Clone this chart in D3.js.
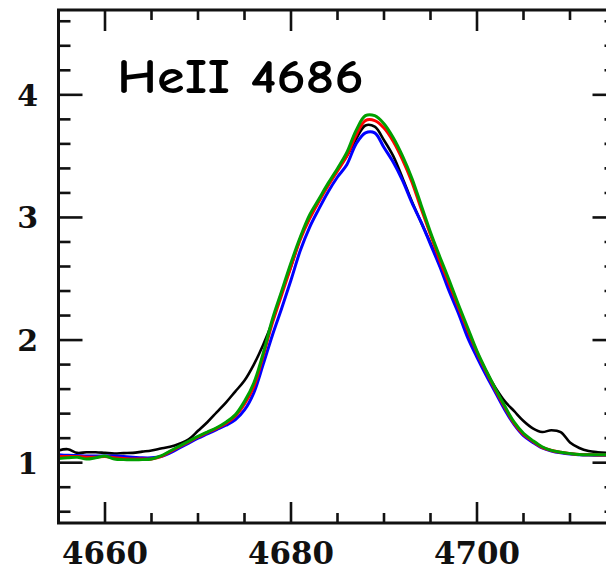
<!DOCTYPE html>
<html>
<head>
<meta charset="utf-8">
<script src="https://cdn.jsdelivr.net/npm/d3@7"></script>
<style>
body { margin: 0; background: #fff; }
svg { display: block; }
.tick-label { font-family: "DejaVu Serif", "Liberation Serif", serif; font-weight: bold; fill: #111; }
.title { font-family: "Comic Sans MS", "Comic Neue", "DejaVu Sans", sans-serif; font-weight: bold; font-size: 48px; fill: #000; }
</style>
</head>
<body>
<div id="chart"></div>
<script>
var width = 606,
    height = 572;

// wavelength grid (Angstrom)
var lambda = [4655, 4656, 4657, 4658, 4659, 4660, 4661, 4662, 4663, 4664,
              4665, 4666, 4667, 4668, 4669, 4670, 4671, 4672, 4673, 4674,
              4675, 4676, 4677, 4678, 4679, 4680, 4681, 4682, 4683, 4684,
              4685, 4686, 4687, 4688, 4689, 4690, 4691, 4692, 4693, 4694,
              4695, 4696, 4697, 4698, 4699, 4700, 4701, 4702, 4703, 4704,
              4705, 4706, 4707, 4708, 4709, 4710, 4711, 4712, 4713, 4714];

// normalised flux
var fluxBlack = [1.10, 1.11, 1.08, 1.085, 1.085, 1.08, 1.075, 1.078, 1.08, 1.09,
                 1.10, 1.115, 1.13, 1.155, 1.19, 1.26, 1.33, 1.41, 1.49, 1.58,
                 1.67, 1.80, 1.96, 2.15, 2.39, 2.60, 2.83, 3.00, 3.14, 3.27,
                 3.39, 3.50, 3.64, 3.75, 3.74, 3.63, 3.50, 3.32, 3.13, 2.96,
                 2.79, 2.61, 2.42, 2.24, 2.05, 1.89, 1.74, 1.61, 1.50, 1.42,
                 1.34, 1.28, 1.25, 1.265, 1.25, 1.165, 1.12, 1.095, 1.085, 1.08];

var fluxBlue = [1.065, 1.06, 1.058, 1.055, 1.055, 1.055, 1.055, 1.05, 1.045, 1.04,
                1.04, 1.05, 1.08, 1.12, 1.16, 1.20, 1.235, 1.27, 1.305, 1.35,
                1.43, 1.57, 1.80, 2.04, 2.26, 2.49, 2.73, 2.92, 3.07, 3.21,
                3.33, 3.43, 3.60, 3.69, 3.69, 3.57, 3.45, 3.30, 3.12, 2.96,
                2.78, 2.60, 2.40, 2.22, 2.02, 1.86, 1.71, 1.57, 1.43, 1.31,
                1.22, 1.165, 1.12, 1.095, 1.08, 1.07, 1.065, 1.062, 1.06, 1.06];

var fluxRed = [1.05, 1.05, 1.05, 1.045, 1.045, 1.05, 1.04, 1.035, 1.03, 1.03,
               1.03, 1.05, 1.09, 1.13, 1.17, 1.21, 1.245, 1.28, 1.32, 1.38,
               1.48, 1.62, 1.87, 2.14, 2.37, 2.60, 2.82, 2.99, 3.13, 3.26,
               3.38, 3.50, 3.67, 3.79, 3.79, 3.73, 3.62, 3.47, 3.29, 3.07,
               2.86, 2.65, 2.46, 2.27, 2.08, 1.90, 1.74, 1.59, 1.45, 1.32,
               1.23, 1.175, 1.125, 1.10, 1.085, 1.075, 1.067, 1.065, 1.063, 1.063];

var fluxGreen = [1.035, 1.04, 1.045, 1.03, 1.04, 1.055, 1.03, 1.025, 1.025, 1.025,
                 1.03, 1.055, 1.095, 1.135, 1.175, 1.215, 1.25, 1.285, 1.33, 1.39,
                 1.50, 1.65, 1.89, 2.17, 2.40, 2.63, 2.84, 3.02, 3.15, 3.28,
                 3.40, 3.53, 3.71, 3.83, 3.83, 3.765, 3.65, 3.50, 3.32, 3.10,
                 2.88, 2.68, 2.49, 2.29, 2.10, 1.91, 1.75, 1.60, 1.46, 1.33,
                 1.24, 1.18, 1.13, 1.10, 1.085, 1.075, 1.067, 1.065, 1.065, 1.065];

var xMajor = [4660, 4680, 4700];
var yMajor = [1, 2, 3, 4];
var title = "HeII 4686";

var series = [
    { color: "#000000", values: fluxBlack, w: 2.6 },
    { color: "#0000ff", values: fluxBlue, w: 3 },
    { color: "#ff0000", values: fluxRed, w: 3 },
    { color: "#00a000", values: fluxGreen, w: 3 }
];

// plot frame runs off the right edge of the picture
var x = d3.scaleLinear().domain([4655, 4715]).range([58.5, 616.5]);
var y = d3.scaleLinear().domain([0.5, 4.7]).range([524, 9]);

var svg = d3.select('#chart').append('svg')
    .attr('width', width)
    .attr('height', height);

// curves
var line = d3.line()
    .x(function(d) { return x(d[0]); })
    .y(function(d) { return y(d[1]); })
    .curve(d3.curveCatmullRom);

svg.append('g')
    .attr('class', 'curves')
    .selectAll('path')
    .data(series)
    .enter().append('path')
    .attr('fill', 'none')
    .attr('stroke', function(d) { return d.color; })
    .attr('stroke-width', function(d) { return d.w; })
    .attr('stroke-linejoin', 'round')
    .attr('d', function(d) {
        return line(lambda.map(function(l, i) { return [l, d.values[i]]; }));
    });

// box with inward ticks on all sides
var x0 = x.range()[0], x1 = x.range()[1],
    yb = y(0.5) - 1, yt = y(4.7) + 1;

var xMinor = d3.range(4655, 4716, 5);
var yMinor = d3.range(6, 47, 2).map(function(v) { return v / 10; });

var ticks = svg.append('g').attr('stroke', '#111').attr('stroke-width', 2.6);

xMinor.forEach(function(v) {
    var len = xMajor.indexOf(v) >= 0 ? 21 : 10;
    ticks.append('line').attr('x1', x(v)).attr('x2', x(v)).attr('y1', yb).attr('y2', yb - len);
    ticks.append('line').attr('x1', x(v)).attr('x2', x(v)).attr('y1', yt).attr('y2', yt + len);
});
yMinor.forEach(function(v) {
    var len = yMajor.indexOf(v) >= 0 ? 24 : 12;
    ticks.append('line').attr('y1', y(v)).attr('y2', y(v)).attr('x1', x0).attr('x2', x0 + len);
    ticks.append('line').attr('y1', y(v)).attr('y2', y(v)).attr('x1', x1).attr('x2', x1 - len);
});

svg.append('rect')
    .attr('x', x0).attr('y', yt)
    .attr('width', x1 - x0).attr('height', yb - yt)
    .attr('fill', 'none')
    .attr('stroke', '#111')
    .attr('stroke-width', 3);

// tick labels
svg.append('g').selectAll('text')
    .data(xMajor)
    .enter().append('text')
    .attr('class', 'tick-label')
    .attr('x', function(d) { return x(d); })
    .attr('y', 564)
    .attr('font-size', 32)
    .attr('text-anchor', 'middle')
    .attr('textLength', 86)
    .attr('lengthAdjust', 'spacingAndGlyphs')
    .text(function(d) { return d; });

svg.append('g').selectAll('text')
    .data(yMajor)
    .enter().append('text')
    .attr('class', 'tick-label')
    .attr('x', 38)
    .attr('y', function(d) { return y(d) + 11; })
    .attr('font-size', 30)
    .attr('text-anchor', 'end')
    .text(function(d) { return d; });

// line label
svg.append('text')
    .attr('class', 'title')
    .attr('x', 117)
    .attr('y', 93)
    .attr('textLength', 247)
    .attr('lengthAdjust', 'spacingAndGlyphs')
    .text(title);
</script>
</body>
</html>
